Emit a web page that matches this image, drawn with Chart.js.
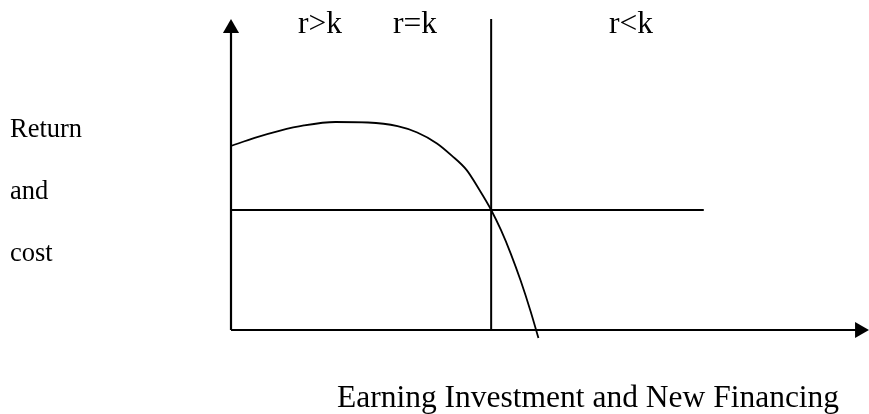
<!DOCTYPE html>
<html>
<head>
<meta charset="utf-8">
<script src="https://cdn.jsdelivr.net/npm/chart.js@4/dist/chart.umd.min.js"></script>
<style>
  html, body { margin: 0; padding: 0; background: #ffffff; }
  #wrap { width: 869px; height: 414px; position: relative; }
</style>
</head>
<body>
<div id="wrap"><canvas id="c" width="869" height="414"></canvas></div>
<script>
// ---- data (abstract units: x 0..100, y 0..100) ----
const curveX = [0, 3.76, 7.68, 11.60, 16.61, 21.79, 26.49, 29.62, 32.76, 35.11, 37.46, 39.50, 41.38, 42.95, 44.51, 46.08, 47.65, 48.90];
const curveY = [59.16, 61.77, 64.02, 65.76, 66.88, 66.72, 65.53, 63.50, 60.00, 56.08, 51.48, 45.08, 38.59, 32.09, 24.50, 15.82, 6.05, -2.57];
const costLevel = 38.59;         // cost of capital k (horizontal line)
const costLineEnd = 75.2;        // horizontal line extends to this x
const equalityX = 41.38;         // r = k point (vertical line)
const axisTopY = 97;             // y-axis arrow position
const axisRightX = 100;          // x-axis arrow position
const regionLabels = ['r>k', 'r=k', 'r<k'];
const yTitleLines = ['Return', 'and', 'cost'];
const xTitle = 'Earning Investment and New Financing';

const pts = (xs, ys) => xs.map((x, i) => ({ x: x, y: ys[i] }));

const textPlugin = {
  id: 'texts',
  afterDraw(chart) {
    const ctx = chart.ctx;
    ctx.save();
    ctx.fillStyle = '#000';
    ctx.textBaseline = 'alphabetic';
    ctx.textAlign = 'left';
    ctx.font = "31.5px 'Liberation Serif', 'Times New Roman', serif";
    const regionX = [298, 393, 609];
    regionLabels.forEach((t, i) => ctx.fillText(t, regionX[i], 33));
    ctx.fillText(xTitle, 337, 407);
    ctx.font = "26.5px 'Liberation Serif', 'Times New Roman', serif";
    const lineY = [137, 199, 261];
    yTitleLines.forEach((t, i) => ctx.fillText(t, 10, lineY[i]));
    ctx.restore();
  }
};

const black = '#000000';
new Chart(document.getElementById('c'), {
  type: 'scatter',
  data: {
    datasets: [
      { // return curve
        data: pts(curveX, curveY),
        showLine: true, borderColor: black, borderWidth: 1.8,
        pointRadius: 0, cubicInterpolationMode: 'monotone', clip: false
      },
      { // cost line
        data: [{ x: 0, y: costLevel }, { x: costLineEnd, y: costLevel }],
        showLine: true, borderColor: black, borderWidth: 2, pointRadius: 0
      },
      { // r = k vertical line
        data: [{ x: equalityX, y: 0 }, { x: equalityX, y: 100 }],
        showLine: true, borderColor: black, borderWidth: 2, pointRadius: 0, clip: false
      },
      { // y axis
        data: [{ x: 0, y: 0 }, { x: 0, y: axisTopY }],
        showLine: true, borderColor: black, borderWidth: 2.2, pointRadius: 0, clip: false
      },
      { // x axis
        data: [{ x: 0, y: 0 }, { x: axisRightX, y: 0 }],
        showLine: true, borderColor: black, borderWidth: 2, pointRadius: 0, clip: false
      },
      { // arrow heads
        data: [{ x: 0, y: axisTopY }, { x: axisRightX, y: 0 }],
        showLine: false, pointStyle: 'triangle', pointRadius: 9.3,
        pointRotation: [0, 90], backgroundColor: black, borderColor: black,
        borderWidth: 0, clip: false
      }
    ]
  },
  options: {
    responsive: false,
    devicePixelRatio: 1,
    animation: false,
    layout: { padding: { left: 231, right: 0, top: 19, bottom: 84 } },
    scales: {
      x: { type: 'linear', min: 0, max: 100, display: false },
      y: { type: 'linear', min: 0, max: 100, display: false }
    },
    plugins: { legend: { display: false }, tooltip: { enabled: false }, title: { display: false } }
  },
  plugins: [textPlugin]
});
</script>
</body>
</html>
